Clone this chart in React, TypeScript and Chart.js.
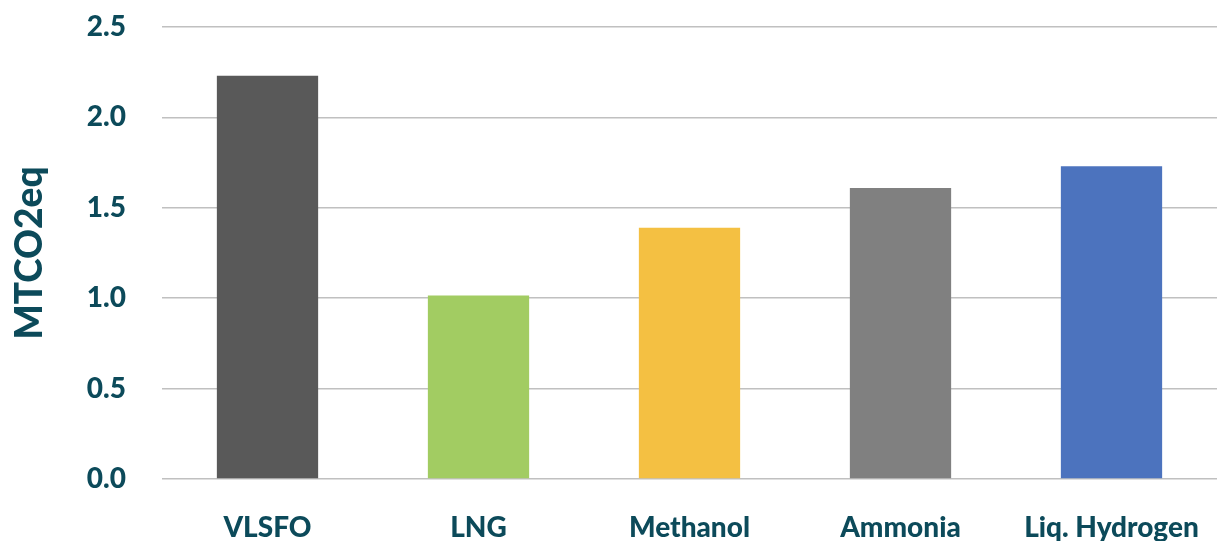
import React, { useEffect, useRef } from "react";
import { Chart, registerables } from "chart.js";

Chart.register(...registerables);

const categories = ["VLSFO", "LNG", "Methanol", "Ammonia", "Liq. Hydrogen"];
const values = [2.23, 1.015, 1.39, 1.61, 1.73];
const barColors = ["#595959", "#A2CC62", "#F4C042", "#808080", "#4C73BE"];
const yTitle = "MTCO2eq";

const TEXT = "#0C4A5A";
const FONT = "Lato, 'Open Sans', sans-serif";

export default function App() {
  const ref = useRef<HTMLCanvasElement | null>(null);

  useEffect(() => {
    if (!ref.current) return;
    const chart = new Chart(ref.current, {
      type: "bar",
      data: {
        labels: categories,
        datasets: [
          {
            data: values,
            backgroundColor: barColors,
            borderWidth: 0,
            barPercentage: 0.48,
            categoryPercentage: 1,
          },
        ],
      },
      options: {
        animation: false,
        responsive: false,
        maintainAspectRatio: false,
        layout: { padding: { top: 27, right: 14, bottom: 0, left: 0 } },
        plugins: {
          legend: { display: false },
          tooltip: { enabled: false },
        },
        scales: {
          x: {
            grid: { display: false, drawTicks: false },
            border: { display: false },
            ticks: {
              color: TEXT,
              padding: 32,
              maxRotation: 0,
              autoSkip: false,
              font: { family: FONT, size: 28, weight: 900 },
            },
            afterFit: (s: any) => {
              s.height = 62;
              s.paddingLeft = 0;
              s.paddingRight = 0;
            },
          },
          y: {
            min: 0,
            max: 2.5,
            grid: { color: "#C0C0C0", lineWidth: 1.5, drawTicks: false },
            border: { display: false },
            ticks: {
              stepSize: 0.5,
              color: TEXT,
              padding: 36,
              font: { family: FONT, size: 28, weight: 900 },
              callback: (v: any) => Number(v).toFixed(1),
            },
            title: {
              display: true,
              text: yTitle,
              color: TEXT,
              padding: { top: 8, bottom: 0 },
              font: { family: FONT, size: 37, weight: 900 },
            },
            afterFit: (s: any) => {
              s.width = 162;
              s.paddingTop = 0;
              s.paddingBottom = 0;
            },
          },
        },
      },
    });
    return () => chart.destroy();
  }, []);

  return (
    <div style={{ position: "fixed", left: 0, top: 0, width: 1231, height: 541, background: "#fff" }}>
      <canvas ref={ref} width={1231} height={541} style={{ display: "block", width: 1231, height: 541 }} />
    </div>
  );
}
